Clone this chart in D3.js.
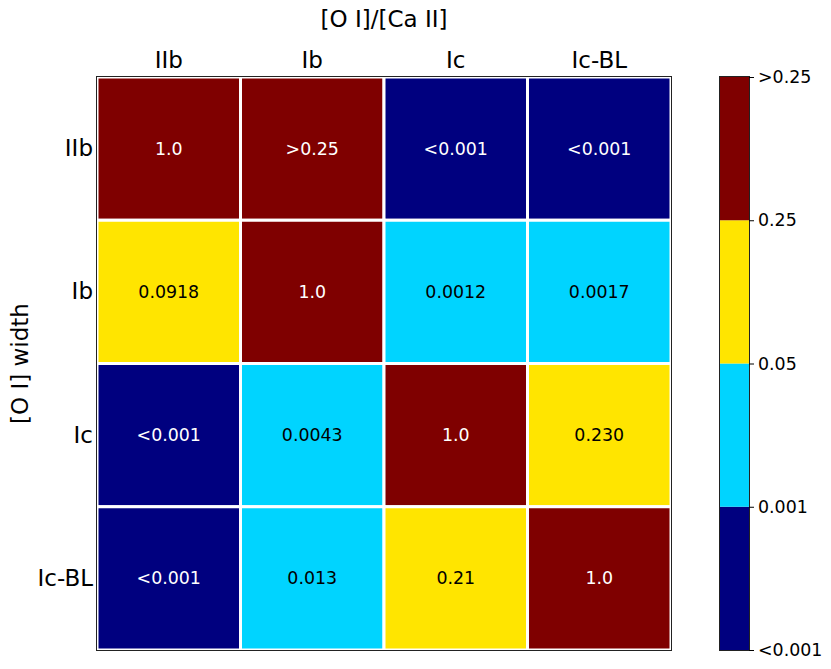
<!DOCTYPE html>
<html>
<head>
<meta charset="utf-8">
<script src="https://cdn.jsdelivr.net/npm/d3@7"></script>
<style>
  body { margin: 0; background: #fff; }
  text { font-family: "DejaVu Sans", sans-serif; }
</style>
</head>
<body>
<script>
const width = 831;
const height = 669;

// sample types (columns: [O I]/[Ca II], rows: [O I] width)
const types = ["IIb", "Ib", "Ic", "Ic-BL"];
// colour class per cell, 0 = <0.001, 1 = 0.001-0.05, 2 = 0.05-0.25, 3 = >0.25
const cellClass = [
    [3, 3, 0, 0],
    [2, 3, 1, 1],
    [0, 1, 3, 2],
    [0, 1, 2, 3]
];
const cellText = [
    ["1.0", ">0.25", "<0.001", "<0.001"],
    ["0.0918", "1.0", "0.0012", "0.0017"],
    ["<0.001", "0.0043", "1.0", "0.230"],
    ["<0.001", "0.013", "0.21", "1.0"]
];
const barLabels = ["<0.001", "0.001", "0.05", "0.25", ">0.25"];
const palette = ["#00007f", "#00d4ff", "#ffe500", "#7f0000"];
const textColor = ["#fff", "#000", "#000", "#fff"];

const plot = { left: 97, top: 77, right: 671, bottom: 650 };
const bar = { left: 720, right: 749 };

let svg = d3.select("body").append("svg")
    .attr("width", width)
    .attr("height", height)

let x = d3.scaleBand()
    .domain(types)
    .range([plot.left, plot.right])

let y = d3.scaleBand()
    .domain(types)
    .range([plot.top, plot.bottom])

let cells = [];
cellClass.forEach(function (row, i) {
    row.forEach(function (c, j) {
        cells.push({ row: types[i], col: types[j], c: c, label: cellText[i][j] });
    });
});

svg.append("g").selectAll("rect")
    .data(cells)
    .enter()
    .append("rect")
    .attr("x", d => x(d.col))
    .attr("y", d => y(d.row))
    .attr("width", x.bandwidth())
    .attr("height", y.bandwidth())
    .attr("fill", d => palette[d.c])
    .attr("stroke", "#fff")
    .attr("stroke-width", 3)

svg.append("g").selectAll("text")
    .data(cells)
    .enter()
    .append("text")
    .attr("x", d => x(d.col) + x.bandwidth() / 2)
    .attr("y", d => y(d.row) + y.bandwidth() / 2)
    .attr("text-anchor", "middle")
    .attr("dominant-baseline", "central")
    .attr("font-size", 17.4)
    .attr("fill", d => textColor[d.c])
    .text(d => d.label)

// frame, snapped to the pixel grid
svg.append("rect")
    .attr("x", plot.left - 0.5)
    .attr("y", plot.top - 0.5)
    .attr("width", plot.right - plot.left + 1)
    .attr("height", plot.bottom - plot.top + 1)
    .attr("fill", "none")
    .attr("stroke", "#222")
    .attr("stroke-width", 1)

// top axis
let xAxis = svg.append("g")
    .attr("transform", "translate(0," + plot.top + ")")
    .call(d3.axisTop(x).tickSize(0).tickPadding(9))
xAxis.select(".domain").remove()
xAxis.selectAll("text").attr("font-size", 23).attr("fill", "#000")
    .attr("font-family", "DejaVu Sans")

let yAxis = svg.append("g")
    .attr("transform", "translate(" + plot.left + ",0)")
    .call(d3.axisLeft(y).tickSize(0).tickPadding(4))
yAxis.select(".domain").remove()
yAxis.selectAll("text").attr("font-size", 23).attr("fill", "#000")
    .attr("font-family", "DejaVu Sans")

svg.append("text")
    .attr("x", (plot.left + plot.right) / 2)
    .attr("y", 27)
    .attr("text-anchor", "middle")
    .attr("font-size", 23)
    .text("[O I]/[Ca II]")

svg.append("text")
    .attr("transform", "translate(28," + (plot.top + plot.bottom) / 2 + ")rotate(-90)")
    .attr("text-anchor", "middle")
    .attr("font-size", 23)
    .text("[O I] width")

// colour bar
let cb = d3.scaleLinear()
    .domain([0, palette.length])
    .range([plot.bottom, plot.top])

svg.append("g").selectAll("rect")
    .data(palette)
    .enter()
    .append("rect")
    .attr("x", bar.left)
    .attr("y", (d, i) => cb(i + 1))
    .attr("width", bar.right - bar.left)
    .attr("height", (d, i) => cb(i) - cb(i + 1))
    .attr("fill", d => d)

svg.append("rect")
    .attr("x", bar.left - 0.5)
    .attr("y", plot.top - 0.5)
    .attr("width", bar.right - bar.left + 1)
    .attr("height", plot.bottom - plot.top + 1)
    .attr("fill", "none")
    .attr("stroke", "#222")
    .attr("stroke-width", 1)

let cbAxis = svg.append("g")
    .attr("transform", "translate(" + bar.right + ",0)")
    .call(d3.axisRight(cb).tickValues(d3.range(barLabels.length))
        .tickFormat((d, i) => barLabels[i]).tickSize(5).tickPadding(4))
cbAxis.select(".domain").remove()
cbAxis.selectAll("line").attr("stroke", "#000")
cbAxis.selectAll("text").attr("font-size", 17.4).attr("fill", "#000")
    .attr("font-family", "DejaVu Sans")
</script>
</body>
</html>
